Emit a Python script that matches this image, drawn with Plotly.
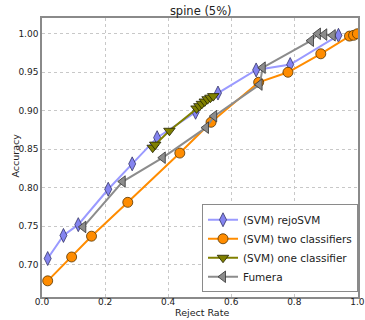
import plotly.graph_objects as go

# rejoSVM
rejo_x = [0.018, 0.068, 0.115, 0.210, 0.286, 0.365, 0.487, 0.558, 0.679, 0.787, 0.940]
rejo_y = [0.708, 0.738, 0.752, 0.798, 0.831, 0.865, 0.898, 0.923, 0.953, 0.960, 0.998]

# two classifiers
two_x = [0.018, 0.094, 0.157, 0.272, 0.437, 0.536, 0.687, 0.780, 0.884, 0.975, 0.988, 1.000]
two_y = [0.679, 0.710, 0.737, 0.781, 0.845, 0.885, 0.937, 0.950, 0.974, 0.997, 0.998, 1.000]

# one classifier
one_x = [0.351, 0.359, 0.404, 0.490, 0.499, 0.507, 0.516, 0.525, 0.534, 0.543]
one_y = [0.852, 0.856, 0.874, 0.903, 0.906, 0.909, 0.912, 0.915, 0.917, 0.919]

# Fumera
fum_x = [0.131, 0.256, 0.383, 0.520, 0.546, 0.690, 0.700, 0.853, 0.875, 0.895, 0.922]
fum_y = [0.749, 0.808, 0.839, 0.878, 0.893, 0.934, 0.956, 0.991, 1.000, 0.999, 0.998]

x_ticks = [0.0, 0.2, 0.4, 0.6, 0.8, 1.0]
y_ticks = [0.70, 0.75, 0.80, 0.85, 0.90, 0.95, 1.00]

FONT = "DejaVu Sans"
fig = go.Figure()

fig.add_trace(go.Scatter(
    x=rejo_x, y=rejo_y, mode="lines+markers", name="(SVM) rejoSVM",
    line=dict(color="#9a9aff", width=2),
    marker=dict(symbol="diamond-tall", size=10, color="#8484f0",
                line=dict(color="#333366", width=0.8))))
fig.add_trace(go.Scatter(
    x=two_x, y=two_y, mode="lines+markers", name="(SVM) two classifiers",
    line=dict(color="#ff8c00", width=2),
    marker=dict(symbol="circle", size=10, color="#ff8c00",
                line=dict(color="#553300", width=0.8))))
fig.add_trace(go.Scatter(
    x=one_x, y=one_y, mode="lines+markers", name="(SVM) one classifier",
    line=dict(color="#808000", width=2),
    marker=dict(symbol="triangle-down", size=10, color="#808000",
                line=dict(color="#222200", width=0.8))))
fig.add_trace(go.Scatter(
    x=fum_x, y=fum_y, mode="lines+markers", name="Fumera",
    line=dict(color="#8c8c8c", width=2),
    marker=dict(symbol="triangle-left", size=10, color="#8c8c8c",
                line=dict(color="#333333", width=0.8))))

axis_common = dict(
    showgrid=True, gridcolor="#c8c8c8", griddash="dot", gridwidth=1,
    showline=True, mirror=True, linecolor="#8a8a8a", linewidth=1.5,
    zeroline=False, ticks="", tickfont=dict(family=FONT, size=9, color="#222"),
    automargin=False,
)

fig.update_layout(
    width=365, height=320,
    margin=dict(l=42, r=7, t=18, b=23),
    paper_bgcolor="white", plot_bgcolor="white",
    font=dict(family=FONT, color="#222"),
    title=dict(text="spine (5%)", x=0.55, xanchor="center", y=0.967, yanchor="middle",
               font=dict(family=FONT, size=11.5, color="#222")),
    xaxis=dict(range=[0, 1.002], tickvals=x_ticks,
               ticktext=[f"{v:.1f}" for v in x_ticks],
               ticklabelstandoff=-5,
               **axis_common),
    yaxis=dict(range=[0.658, 1.0205], tickvals=y_ticks,
               ticktext=[f"{v:.2f}" for v in y_ticks],
               **axis_common),
    legend=dict(x=1.0, y=0.017, xanchor="right", yanchor="bottom",
                bgcolor="white", bordercolor="#8a8a8a", borderwidth=1,
                font=dict(family=FONT, size=10.5, color="#222"),
                itemwidth=30, tracegroupgap=0),
    showlegend=True,
    annotations=[
        dict(text="Reject Rate", xref="paper", yref="paper", x=0.5, y=0,
             xanchor="center", yanchor="middle", yshift=-15, xshift=2,
             showarrow=False, font=dict(family=FONT, size=9.5, color="#222")),
        dict(text="Accuracy", xref="paper", yref="paper", x=0, y=0.5,
             xanchor="center", yanchor="middle", xshift=-27, yshift=2, textangle=-90,
             showarrow=False, font=dict(family=FONT, size=9.5, color="#222")),
    ],
)

fig.write_html("out.html", config={"displayModeBar": False},
               post_script="document.body.style.margin='0';document.body.style.overflow='hidden';")
